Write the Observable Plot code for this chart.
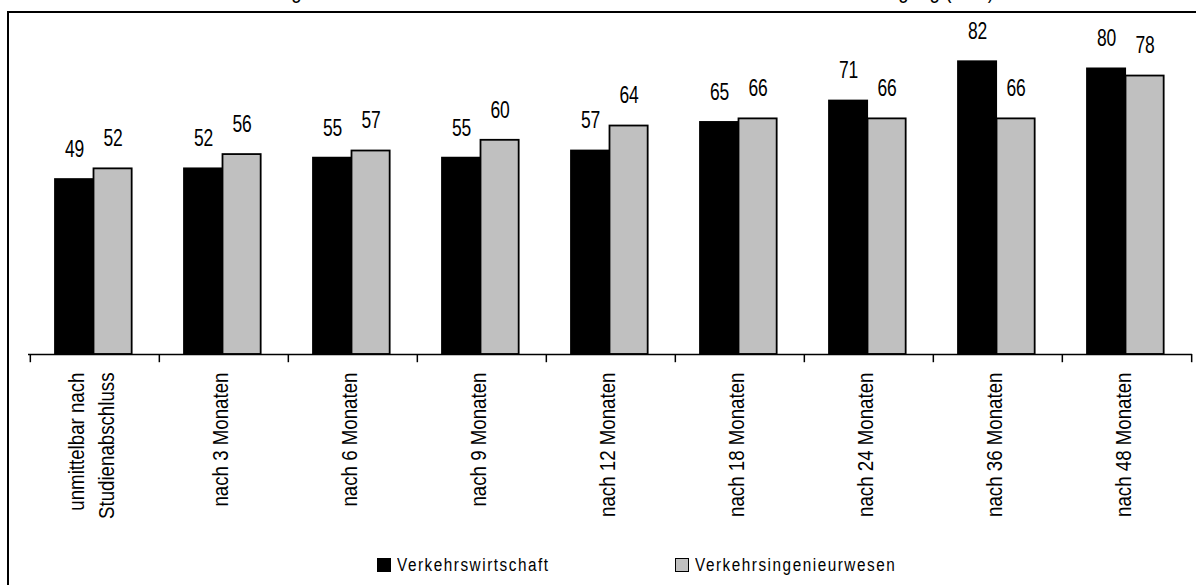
<!DOCTYPE html>
<html>
<head>
<meta charset="utf-8">
<script src="https://cdn.jsdelivr.net/npm/d3@7"></script>
<script src="https://cdn.jsdelivr.net/npm/@observablehq/plot@0.6"></script>
<style>
  html, body { margin: 0; padding: 0; background: #fff; width: 1196px; height: 585px; overflow: hidden; }
  body { position: relative; font-family: "Liberation Sans", Arial, sans-serif; }
  #title { position: absolute; left: 0; width: 1196px; top: -20px; text-align: center; font-size: 22px; line-height: 22px; white-space: nowrap; }
  #title span { display: inline-block; transform: scaleX(0.85); transform-origin: center; }
  #frame { position: absolute; left: 7px; top: 11px; width: 1220px; height: 620px; border: 2px solid #000; box-sizing: border-box; }
  #chart { position: absolute; left: 0; top: 0; }
  #legend { position: absolute; top: 556px; left: 377px; display: flex; align-items: center; font-size: 18px; line-height: 18px; }
  .item { display: flex; align-items: center; }
  .sw { width: 12px; height: 12px; border: 1.5px solid #000; margin-right: 6px; flex: none; }
  .lbl { display: inline-block; letter-spacing: 1.8px; transform: scaleX(0.85); transform-origin: left center; white-space: nowrap; }
</style>
</head>
<body>
<div id="title"><span>Entwicklung des Anteils der Absolventen mit unbefristeter Vollzeitstelle nach Studiengang (in %)</span></div>
<div id="frame"></div>
<div id="chart"></div>
<div id="legend"></div>
<script>
const categories = [
  "unmittelbar nach\nStudienabschluss",
  "nach 3 Monaten",
  "nach 6 Monaten",
  "nach 9 Monaten",
  "nach 12 Monaten",
  "nach 18 Monaten",
  "nach 24 Monaten",
  "nach 36 Monaten",
  "nach 48 Monaten"
];
const seriesNames = ["Verkehrswirtschaft", "Verkehrsingenieurwesen"];
const verkehrswirtschaft = [49, 52, 55, 55, 57, 65, 71, 82, 80];
const verkehrsingenieurwesen = [52, 56, 57, 60, 64, 66, 66, 66, 78];
const seriesColors = ["#000000", "#c0c0c0"];

const rows = categories.flatMap((c, i) => [
  {cat: c, series: seriesNames[0], value: verkehrswirtschaft[i]},
  {cat: c, series: seriesNames[1], value: verkehrsingenieurwesen[i]}
]);

const W = 1196, mL = 28, mR = 4;
const bw = (W - mL - mR) / categories.length;   // band width
const barW = 38.5;
const leftPad = 25;                              // gap from band start to first bar
const ins = [
  {l: leftPad, r: bw - leftPad - barW},
  {l: leftPad + barW, r: bw - leftPad - 2 * barW}
];
const dxs = ins.map(o => o.l + barW / 2 - bw / 2);

const font = '"Liberation Sans", Arial, sans-serif';

const marks = [];
seriesNames.forEach((s, k) => {
  const d = rows.filter(r => r.series === s);
  marks.push(Plot.barY(d, {
    x: "cat", y: "value", fill: seriesColors[k], stroke: "#000", strokeWidth: 1.8,
    insetLeft: ins[k].l, insetRight: ins[k].r
  }));
  marks.push(Plot.text(d, {
    x: "cat", y: "value", text: d => String(d.value), dx: dxs[k], dy: -30,
    fontSize: 23, fill: "#000", lineAnchor: "middle", className: "narrow-v"
  }));
});
// baseline
marks.push(Plot.ruleY([0], {stroke: "#000", strokeWidth: 1.5}));
// category boundary ticks
marks.push(Plot.ruleX(categories, {x: d => d, y1: 0, y2: -2.3, dx: -bw / 2, stroke: "#000", strokeWidth: 1.5}));
marks.push(Plot.ruleX([categories[categories.length - 1]], {x: d => d, y1: 0, y2: -2.3, dx: bw / 2, stroke: "#000", strokeWidth: 1.5}));
// category labels
marks.push(Plot.text(categories, {
  x: d => d, y: 0, text: d => d, rotate: -90, textAnchor: "end", lineAnchor: "middle",
  dy: 18, dx: -6, fontSize: 22, lineHeight: 1.36, fill: "#000", className: "narrow-t"
}));

const chart = Plot.plot({
  width: W,
  height: 530,
  marginLeft: mL,
  marginRight: mR,
  marginTop: 32.7,
  marginBottom: 176,
  style: {fontFamily: font, background: "transparent", overflow: "visible"},
  x: {domain: categories, padding: 0, axis: null},
  y: {domain: [0, 90], axis: null},
  marks
});

// emulate a narrow typeface: compress glyphs along the reading direction
function narrow(sel, s) {
  chart.querySelectorAll(sel + " text").forEach(t => {
    const tr = t.getAttribute("transform");
    if (tr) {
      t.setAttribute("transform", tr + ` scale(${s},1)`);
    } else {
      const x = +(t.getAttribute("x") || 0), y = +(t.getAttribute("y") || 0);
      t.setAttribute("x", 0); t.setAttribute("y", 0);
      t.setAttribute("transform", `translate(${x},${y}) scale(${s},1)`);
    }
  });
}
narrow(".narrow-v", 0.76);
narrow(".narrow-t", 0.85);

document.getElementById("chart").appendChild(chart);

const legend = document.getElementById("legend");
seriesNames.forEach((s, k) => {
  const it = document.createElement("div");
  it.className = "item";
  if (k === 0) it.style.width = "298px";
  const sw = document.createElement("div");
  sw.className = "sw";
  sw.style.background = seriesColors[k];
  const t = document.createElement("span");
  t.className = "lbl";
  t.textContent = s;
  it.appendChild(sw);
  it.appendChild(t);
  legend.appendChild(it);
});
</script>
</body>
</html>
